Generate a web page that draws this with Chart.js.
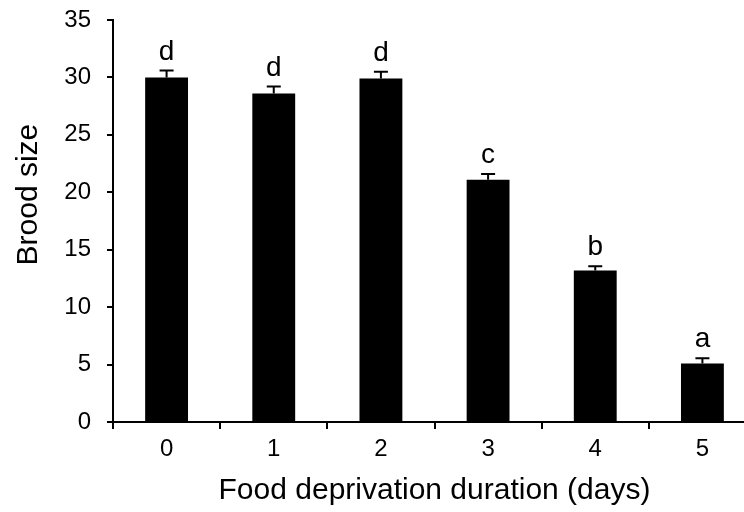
<!DOCTYPE html>
<html>
<head>
<meta charset="utf-8">
<script src="https://cdn.jsdelivr.net/npm/chart.js@4"></script>
<style>
  html, body { margin: 0; padding: 0; background: #fff; overflow: hidden; }
  .container_chart { width: 760px; height: 512px; }
</style>
</head>
<body>
<div class="container_chart"><canvas id="myChart"></canvas></div>
<script>
const dias = ['0', '1', '2', '3', '4', '5'];
const medias = [30.0, 28.6, 29.9, 21.1, 13.2, 5.1];
const errores = [0.6, 0.6, 0.6, 0.5, 0.35, 0.45];
const letras = ['d', 'd', 'd', 'c', 'b', 'a'];
const ticksY = [0, 5, 10, 15, 20, 25, 30, 35];

const fuente = "'Liberation Sans', Arial, sans-serif";

// barras de error + letras encima + título del eje Y
const errorBars = {
    id: 'errorBars',
    afterDatasetsDraw(chart) {
        const ctx = chart.ctx;
        const y = chart.scales.y;
        const meta = chart.getDatasetMeta(0);
        ctx.save();
        ctx.strokeStyle = '#000';
        ctx.lineWidth = 2;
        ctx.fillStyle = '#000';
        ctx.font = '28px ' + fuente;
        ctx.textAlign = 'center';
        ctx.textBaseline = 'alphabetic';
        meta.data.forEach((bar, i) => {
            const top = y.getPixelForValue(medias[i] + errores[i]);
            ctx.beginPath();
            ctx.moveTo(bar.x, bar.y);
            ctx.lineTo(bar.x, top);
            ctx.moveTo(bar.x - 7, top);
            ctx.lineTo(bar.x + 7, top);
            ctx.stroke();
            ctx.fillText(letras[i], bar.x, top - 11);
        });
        // el título va un poco por encima del centro
        ctx.translate(29, y.getPixelForValue(19.8));
        ctx.rotate(-Math.PI / 2);
        ctx.font = '30px ' + fuente;
        ctx.textBaseline = 'middle';
        ctx.fillText('Brood size', 0, 0);
        ctx.restore();
    }
};

new Chart(document.getElementById('myChart'), {
    type: 'bar',
    data: {
        labels: dias,
        datasets: [{
            data: medias,
            backgroundColor: '#000',
            borderWidth: 0,
            barPercentage: 0.4,
            categoryPercentage: 1
        }]
    },
    options: {
        responsive: true,
        maintainAspectRatio: false,
        animation: false,
        layout: { padding: { top: 20, right: 4, left: 0, bottom: 0 } },
        plugins: { legend: { display: false }, tooltip: { enabled: false } },
        scales: {
            x: {
                offset: true,
                grid: { display: true, offset: true, drawOnChartArea: false, drawTicks: true, tickLength: 7, color: '#000', lineWidth: 2 },
                border: { display: true, color: '#000', width: 2 },
                ticks: { color: '#000', font: { size: 24, family: fuente }, padding: 6 },
                title: { display: true, text: 'Food deprivation duration (days)', color: '#000', font: { size: 30, family: fuente }, padding: { top: 0, bottom: 3 } },
                afterFit(scale) { scale.height = 90; }
            },
            y: {
                min: 0,
                max: 35,
                afterBuildTicks(scale) { scale.ticks = ticksY.map(v => ({ value: v })); },
                grid: { display: true, drawOnChartArea: false, drawTicks: true, tickLength: 6, color: '#000', lineWidth: 2 },
                border: { display: true, color: '#000', width: 2 },
                ticks: { color: '#000', font: { size: 24, family: fuente }, padding: 16 },
                title: { display: false },
                afterFit(scale) {
                    scale.width = 113;
                    scale.paddingTop = 0;
                    scale.paddingBottom = 0;
                }
            }
        }
    },
    plugins: [errorBars]
});
</script>
</body>
</html>
